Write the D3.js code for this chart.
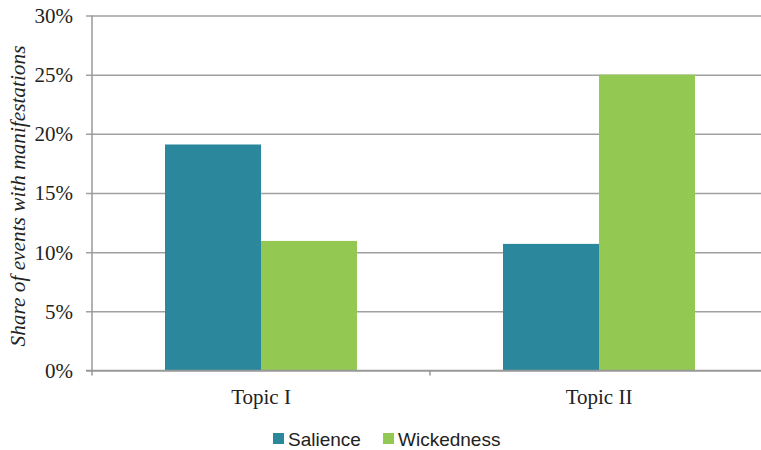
<!DOCTYPE html>
<html>
<head>
<meta charset="utf-8">
<script src="https://cdn.jsdelivr.net/npm/d3@7"></script>
<style>
  html, body { margin: 0; padding: 0; background: #fff; }
  svg { display: block; }
</style>
</head>
<body>
<svg id="chart" width="761" height="450"></svg>
<script>
// Chart data
const categories = ["Topic I", "Topic II"];
const seriesNames = ["Salience", "Wickedness"];
const salience = [19.1, 10.7];
const wickedness = [10.95, 25.0];
const yTicks = [0, 5, 10, 15, 20, 25, 30];
const yTitle = "Share of events with manifestations";

const colors = { "Salience": "#2b879c", "Wickedness": "#93c953" };
const values = { "Salience": salience, "Wickedness": wickedness };

const svg = d3.select("#chart");
const serif = "'Liberation Serif', 'Times New Roman', serif";
const sans = "'Liberation Sans', Arial, sans-serif";

const plot = { left: 92, right: 768, top: 15.5, bottom: 370.5 };

const y = d3.scaleLinear().domain([0, 30]).range([plot.bottom, plot.top]);
const x0 = d3.scaleBand().domain(categories)
  .range([plot.left, plot.right])
  .paddingInner(0.432).paddingOuter(0.216);
const x1 = d3.scaleBand().domain(seriesNames).range([0, x0.bandwidth()]);

// Horizontal gridlines with left tick marks
const yAxis = d3.axisLeft(y).tickValues(yTicks)
  .tickSize(-(plot.right - plot.left)).tickPadding(19)
  .tickFormat(d => d + "%");
const gy = svg.append("g").attr("transform", `translate(${plot.left},0)`).call(yAxis);
gy.select(".domain").remove();
gy.selectAll(".tick line").attr("stroke", "#a0a0a0").attr("stroke-width", 1.5)
  .attr("x1", -6);
gy.selectAll(".tick text").attr("font-family", serif).attr("font-size", 21)
  .attr("fill", "#222").attr("dy", "0.33em");

// Bars
const groups = svg.append("g").selectAll("g").data(categories).join("g")
  .attr("transform", d => `translate(${x0(d)},0)`);
groups.selectAll("rect")
  .data((c, i) => seriesNames.map(s => ({ s, v: values[s][i] })))
  .join("rect")
  .attr("x", d => x1(d.s))
  .attr("width", x1.bandwidth())
  .attr("y", d => y(d.v))
  .attr("height", d => y(0) - y(d.v))
  .attr("fill", d => colors[d.s]);

// Vertical axis line
svg.append("line")
  .attr("x1", plot.left).attr("x2", plot.left)
  .attr("y1", plot.top).attr("y2", plot.bottom + 5)
  .attr("stroke", "#999").attr("stroke-width", 1.5);

// Category axis: baseline, divider and labels
const xAxis = d3.axisBottom(x0).tickSize(0).tickPadding(19);
const gx = svg.append("g").attr("transform", `translate(0,${plot.bottom})`).call(xAxis);
gx.select(".domain").remove();
gx.selectAll(".tick text").attr("font-family", serif).attr("font-size", 21)
  .attr("fill", "#222");
svg.append("line")
  .attr("x1", plot.left - 6).attr("x2", plot.right)
  .attr("y1", plot.bottom).attr("y2", plot.bottom)
  .attr("stroke", "#999").attr("stroke-width", 1.5);
const step = x0.step();
svg.append("line")
  .attr("x1", plot.left + step).attr("x2", plot.left + step)
  .attr("y1", plot.bottom).attr("y2", plot.bottom + 5)
  .attr("stroke", "#999").attr("stroke-width", 1.5);

// Y axis title
svg.append("text")
  .attr("transform", `translate(24.5,196) rotate(-90)`)
  .attr("text-anchor", "middle")
  .attr("font-family", serif).attr("font-style", "italic").attr("font-size", 21.3)
  .attr("fill", "#222")
  .text(yTitle);

// Legend
const legend = svg.append("g").attr("transform", "translate(273,446)");
const legendX = [0, 110];
seriesNames.forEach((s, i) => {
  const g = legend.append("g").attr("transform", `translate(${legendX[i]},0)`);
  g.append("rect").attr("x", 0).attr("y", -13).attr("width", 11).attr("height", 11)
    .attr("fill", colors[s]);
  g.append("text").attr("x", 15).attr("y", 0)
    .attr("font-family", sans).attr("font-size", 19).attr("fill", "#222")
    .text(s);
});
</script>
</body>
</html>
